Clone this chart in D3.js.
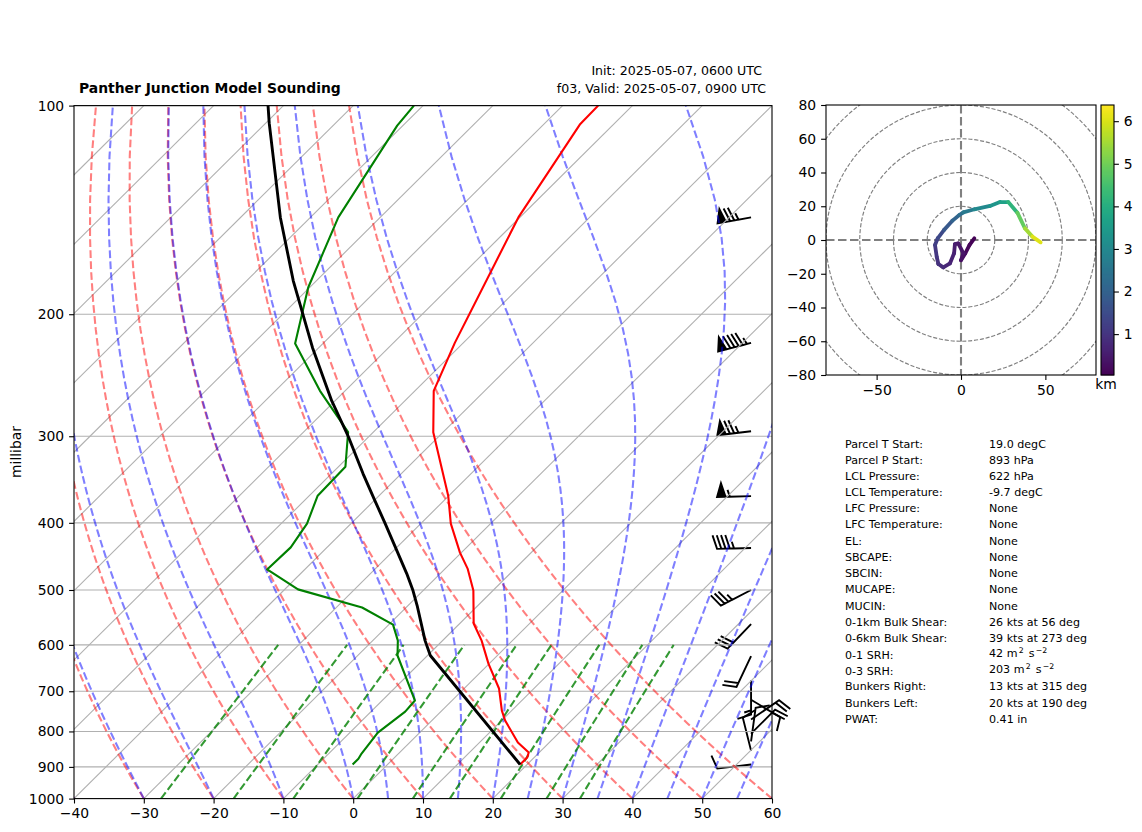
<!DOCTYPE html>
<html><head><meta charset="utf-8">
<style>html,body{margin:0;padding:0;background:#fff}svg{display:block}text{font-family:"DejaVu Sans";fill:#000}</style>
<script src="https://cdn.jsdelivr.net/npm/d3@7"></script></head>
<body><svg id="c" width="1142" height="832"></svg>
<script>
// ---- sounding profiles (top to bottom)
const tempP = [100,106.5,145,220,258,296,365.5,401,441.6,465.7,501,559,591.6,638.6,693.6,746.5,771.5,830,858,872.6,893];
const tempC = [-64.9,-64.8,-60.2,-51.2,-47.3,-41.4,-30.1,-25.7,-20.2,-16.8,-12.8,-8,-4.4,-0.1,5,8.6,10.5,15.5,18.5,19,19];
const dewP = [100,106.9,145,183,220.4,258,296,332,365.5,401,434,467,499,530,561,591.6,621.6,722,749,803,861,876,893];
const dewC = [-91.3,-90.8,-86,-80.2,-74,-63.6,-53.6,-49,-48.8,-46.3,-45.2,-45.4,-38.1,-26.3,-19.4,-16.4,-14.3,-5.3,-5.1,-6,-5.3,-5,-5];
const parcelP = [100,106,145,179,223.5,266.6,301,339.6,371.5,401,434,473.5,501,526.5,591.6,621.6,893];
const parcelC = [-112.2,-109.5,-94.3,-83.3,-70.9,-60.5,-52.8,-45.5,-39.9,-35.1,-30.2,-24.8,-21.45,-18.7,-12.5,-9.6,19];
// ---- wind barbs, knots
const barbP = [145,220,295,366,435,500,560,623,675.7,720,769,806,827,852.7,893];
const barbU = [74,92,74,55,45,31,21,9,0,-10,-16,-14,-1.5,3,10];
const barbV = [13,24,9,1.5,1,16,22,19,15,6,-11,-14,-11,-12,1.2];
// ---- hodograph
const hodoU = [7.9,5,2.5,0,1.4,-1.6,-3.6,-4.1,-6.5,-10.5,-13.4,-14.4,-15.4,-13.8,-10,-5,-1,1.4,7.9,17.2,23.1,28,33.4,37.9,42.3,47.2];
const hodoV = [1,-3,-8,-12,-7.9,-2,-2.4,-7.9,-13.8,-16.2,-14.2,-9.9,-3,1,6,11.5,14.8,16.4,18.2,20.2,22.5,22.5,16.2,6.9,2,-1.4];
const hodoKm = [0.05,0.12,0.2,0.28,0.36,0.42,0.5,0.58,0.68,0.78,0.88,1,1.15,1.3,1.6,1.95,2.2,2.4,2.85,3.2,3.5,3.85,4.5,5.2,5.8,6.35];
const rangeRings = [20,40,60,80,100,120];
// ---- axis ticks and reference line families
const pressureTicks = [100,200,300,400,500,600,700,800,900,1000];
const tempTicks = [-40,-30,-20,-10,0,10,20,30,40,50,60];
const isotherms = [-130,-120,-110,-100,-90,-80,-70,-60,-50,-40,-30,-20,-10,0,10,20,30,40,50,60];
const dryStarts = [-40,-30,-20,-10,0,10,20,30,40,50,60];
const moistStarts = [-40,-30,-20,-10,0,5,10,15,20,25,30,35,40,45,50,55,60];
const mixRatios = [0.0004,0.001,0.002,0.004,0.007,0.01,0.016,0.024,0.032];
const hodoTicksX = [-50,0,50];
const hodoTicksY = [-80,-60,-40,-20,0,20,40,60,80];
const cbarTicks = [1,2,3,4,5,6];
// ---- text
const infoLabels = ["Parcel T Start:","Parcel P Start:","LCL Pressure:","LCL Temperature:","LFC Pressure:","LFC Temperature:","EL:","SBCAPE:","SBCIN:","MUCAPE:","MUCIN:","0-1km Bulk Shear:","0-6km Bulk Shear:","0-1 SRH:","0-3 SRH:","Bunkers Right:","Bunkers Left:","PWAT:"];
const infoValues = ["19.0 degC","893 hPa","622 hPa","-9.7 degC","None","None","None","None","None","None","None","26 kts at 56 deg","39 kts at 273 deg","42 m|2| s|\u22122","203 m|2| s|\u22122","13 kts at 315 deg","20 kts at 190 deg","0.41 in"];

const svg = d3.select("#c");
const fmt = d => String(d).replace("-", "\u2212");
const L = 74, R = 772, T = 105.6, B = 798.6;
const yP = d3.scaleLog().domain([1000,100]).range([B,T]);
const xT = d3.scaleLinear().domain([-40,60]).range([L,R]);
// 45 degree skew in axes fractions: one full axes width over the full axes height
const sx = (t,p) => xT(t) + (R-L)*(B - yP(p))/(B-T);

svg.append("defs").append("clipPath").attr("id","skew").append("rect").attr("x",L).attr("y",T).attr("width",R-L).attr("height",B-T);
svg.select("defs").append("clipPath").attr("id","hodo").append("rect").attr("x",826).attr("y",105).attr("width",270).attr("height",270);

const plot = svg.append("g").attr("clip-path","url(#skew)");
const line = d3.line().x(d=>sx(d[0],d[1])).y(d=>yP(d[1]));

// grid
plot.selectAll("line.h").data(pressureTicks).join("line").attr("x1",L).attr("x2",R).attr("y1",d=>yP(d)).attr("y2",d=>yP(d)).attr("stroke","#b0b0b0").attr("stroke-width",1.1);
plot.selectAll("line.t").data(isotherms).join("line").attr("x1",d=>sx(d,1000)).attr("y1",B).attr("x2",d=>sx(d,100)).attr("y2",T).attr("stroke","#b0b0b0").attr("stroke-width",1.1);

// wind barbs (matplotlib geometry, knots, rounded to 5)
const barbLen = 34, spacing = barbLen*.125, bh = barbLen*.4, bw = barbLen*.25;
const barbX = xT.invert(L + (R-L)*0.97);
const barbs = svg.append("g");
barbP.forEach((p,i)=>{
  const u=barbU[i], v=barbV[i], sp=Math.hypot(u,v);
  let rem=5*Math.round(sp/5);
  const nf=Math.floor(rem/50); rem-=nf*50; const nb=Math.floor(rem/10); rem-=nb*10; const nh=rem>=5?1:0;
  const ax=-u/sp, ay=v/sp;            // along staff, screen coords, base to tail
  const bx=-ay, by=ax;                // bar side
  const x0=xT(barbX), y0=yP(p);
  const P=(a,b)=>[x0+ax*a+bx*b, y0+ay*a+by*b];
  const verts=[P(0,0)];
  let off=barbLen;
  for(let k=0;k<nf;k++){ if(off!==barbLen) off-=spacing/2;
    verts.push(P(off,0),P(off-bw/2,bh),P(off-bw,0)); off-=bw+spacing; }
  for(let k=0;k<nb;k++){ verts.push(P(off,0),P(off+bw/2,bh),P(off,0)); off-=spacing; }
  for(let k=0;k<nh;k++){ if(off===barbLen) off-=1.5*spacing; verts.push(P(off,0),P(off+bw/4,bh/2),P(off,0)); off-=spacing; }
  verts.push(P(0,0));
  barbs.append("path").attr("d",d3.line()(verts)+"Z").attr("fill","#000").attr("stroke","#000").attr("stroke-width",1.9).attr("stroke-linejoin","miter");
});
plot.raise();

// reference curves
const pLin = d3.range(50).map(i=>1000-i*900/49);
const kappa=0.28571;
const dry = t0 => pLin.map(p=>[(t0+273.15)*Math.pow(p/1000,kappa)-273.15,p]);
const es = tc => 6.112*Math.exp(17.67*tc/(tc+243.5));
function moistRate(p,tk){ const e=es(tk-273.15); const rs=0.622*e/Math.max(p-e,1e-3);
  return (287.05*tk+2.501e6*rs)/(1005+2.501e6*2.501e6*rs*0.622/(287.05*tk*tk))/p; }
function moist(t0){ let tk=t0+273.15; const out=[[t0,1000]];
  for(let i=1;i<pLin.length;i++){ const n=20, h=(pLin[i]-pLin[i-1])/n; let p=pLin[i-1];
    for(let k=0;k<n;k++){ const a=moistRate(p,tk),b=moistRate(p+h/2,tk+h*a/2),c=moistRate(p+h/2,tk+h*b/2),d=moistRate(p+h,tk+h*c);
      tk+=h*(a+2*b+2*c+d)/6; p+=h; }
    out.push([tk-273.15,pLin[i]]); }
  return out; }
const mixing = w => d3.range(30).map(i=>{ const p=1000-i*400/29; const e=p*w/(0.622+w); const l=Math.log(e/6.112); return [243.5*l/(17.67-l),p]; });

plot.selectAll("path.dry").data(dryStarts).join("path").attr("d",d=>line(dry(d))).attr("fill","none").attr("stroke","#f00").attr("stroke-opacity",.5).attr("stroke-width",2.08).attr("stroke-dasharray","7.7 3.3");
plot.selectAll("path.moist").data(moistStarts).join("path").attr("d",d=>line(moist(d))).attr("fill","none").attr("stroke","#00f").attr("stroke-opacity",.5).attr("stroke-width",2.08).attr("stroke-dasharray","7.7 3.3");
plot.selectAll("path.mix").data(mixRatios).join("path").attr("d",d=>line(mixing(d))).attr("fill","none").attr("stroke","#008000").attr("stroke-opacity",.8).attr("stroke-width",2.08).attr("stroke-dasharray","7.7 3.3");

// profiles
const prof=(P,C,col,w)=>plot.append("path").attr("d",line(P.map((p,i)=>[C[i],p]))).attr("fill","none").attr("stroke",col).attr("stroke-width",w).attr("stroke-linejoin","round");
prof(tempP,tempC,"#f00",2.1);
prof(dewP,dewC,"#008000",2.1);
prof(parcelP,parcelC,"#000",2.9);

// skew axes
const gl=svg.append("g").attr("transform",`translate(${L},0)`).call(d3.axisLeft(yP).tickValues(pressureTicks).tickFormat(d=>d).tickSize(4.9).tickPadding(4.9));
const gb=svg.append("g").attr("transform",`translate(0,${B})`).call(d3.axisBottom(xT).tickValues(tempTicks).tickFormat(fmt).tickSize(4.9).tickPadding(4.9));
[gl,gb].forEach(g=>{g.selectAll("text").attr("font-size",13.9).style("font-family","DejaVu Sans");g.selectAll(".tick line").attr("stroke","#000").attr("stroke-width",1.1);g.select(".domain").remove();});
svg.append("rect").attr("x",L).attr("y",T).attr("width",R-L).attr("height",B-T).attr("fill","none").attr("stroke","#000").attr("stroke-width",1.1);
svg.append("text").attr("transform","translate(21,452) rotate(-90)").attr("text-anchor","middle").attr("font-size",13.9).text("millibar");

// titles
svg.append("text").attr("x",79).attr("y",92.5).attr("font-size",13.9).attr("font-weight","bold").text("Panther Junction Model Sounding");
svg.append("text").attr("x",762).attr("y",74.5).attr("text-anchor","end").attr("font-size",12.6).text("Init: 2025-05-07, 0600 UTC");
svg.append("text").attr("x",766).attr("y",92.5).attr("text-anchor","end").attr("font-size",12.6).text("f03, Valid: 2025-05-07, 0900 UTC");

// hodograph
const hx=d3.scaleLinear().domain([-80,80]).range([826,1096]);
const hy=d3.scaleLinear().domain([-80,80]).range([375,105]);
const hg=svg.append("g").attr("clip-path","url(#hodo)");
hg.selectAll("circle").data(rangeRings).join("circle").attr("cx",hx(0)).attr("cy",hy(0)).attr("r",d=>hx(d)-hx(0)).attr("fill","none").attr("stroke","#808080").attr("stroke-width",1.15).attr("stroke-dasharray","4.1 1.8");
hg.append("line").attr("x1",826).attr("x2",1096).attr("y1",hy(0)).attr("y2",hy(0)).attr("stroke","#808080").attr("stroke-width",2.1).attr("stroke-dasharray","8.5 3.5");
hg.append("line").attr("y1",105).attr("y2",375).attr("x1",hx(0)).attr("x2",hx(0)).attr("stroke","#808080").attr("stroke-width",2.1).attr("stroke-dasharray","8.5 3.5");
const kmScale=d3.scaleSequential(d3.interpolateViridis).domain([0.04,6.38]);
hodoU.slice(1).forEach((u,i)=>{
  hg.append("line").attr("x1",hx(hodoU[i])).attr("y1",hy(hodoV[i])).attr("x2",hx(u)).attr("y2",hy(hodoV[i+1])).attr("stroke",kmScale((hodoKm[i]+hodoKm[i+1])/2)).attr("stroke-width",3.8).attr("stroke-linecap","round");
});
const hl=svg.append("g").attr("transform","translate(826,0)").call(d3.axisLeft(hy).tickValues(hodoTicksY).tickFormat(fmt).tickSize(4.9).tickPadding(4.9));
const hb=svg.append("g").attr("transform","translate(0,375)").call(d3.axisBottom(hx).tickValues(hodoTicksX).tickFormat(fmt).tickSize(4.9).tickPadding(4.9));
[hl,hb].forEach(g=>{g.selectAll("text").attr("font-size",13.9).style("font-family","DejaVu Sans");g.selectAll(".tick line").attr("stroke","#000").attr("stroke-width",1.1);g.select(".domain").remove();});
svg.append("rect").attr("x",826).attr("y",105).attr("width",270).attr("height",270).attr("fill","none").attr("stroke","#000").attr("stroke-width",1.1);

// colorbar
const cy=d3.scaleLinear().domain([0.04,6.38]).range([375,105]);
const cg=svg.append("g");
d3.range(0,270).forEach(i=>{cg.append("rect").attr("x",1101).attr("width",13).attr("y",375-i-1).attr("height",1.4).attr("fill",kmScale(cy.invert(375-i-.5)));});
const cr=svg.append("g").attr("transform","translate(1114,0)").call(d3.axisRight(cy).tickValues(cbarTicks).tickFormat(d=>d).tickSize(4.9).tickPadding(4.9));
cr.selectAll("text").attr("font-size",13.9).style("font-family","DejaVu Sans");cr.selectAll(".tick line").attr("stroke","#000").attr("stroke-width",1.1);cr.select(".domain").remove();
svg.append("rect").attr("x",1101).attr("y",105).attr("width",13).attr("height",270).attr("fill","none").attr("stroke","#000").attr("stroke-width",1.1);
svg.append("text").attr("x",1106).attr("y",389).attr("text-anchor","middle").attr("font-size",13.9).text("km");

// info block
const rowY=[444,460,476,492,508,524,541,557,573,589,606,622,638,655,671,686,703,719];
infoLabels.forEach((t,i)=>{
  svg.append("text").attr("x",845).attr("y",rowY[i]+4).attr("font-size",11.1).text(t);
  const parts=infoValues[i].split("|");
  const tv=svg.append("text").attr("x",989).attr("y",rowY[i]+4-(parts.length>1?2.5:0)).attr("font-size",11.1);
  parts.forEach((s,k)=>{
    const ts=tv.append("tspan").text(s);
    if(k%2){ ts.attr("font-size",7.8).attr("dy",-4).attr("dx",1.2); }
    else if(k){ ts.attr("dy",4).attr("dx",1.5); }
  });
});
</script></body></html>
